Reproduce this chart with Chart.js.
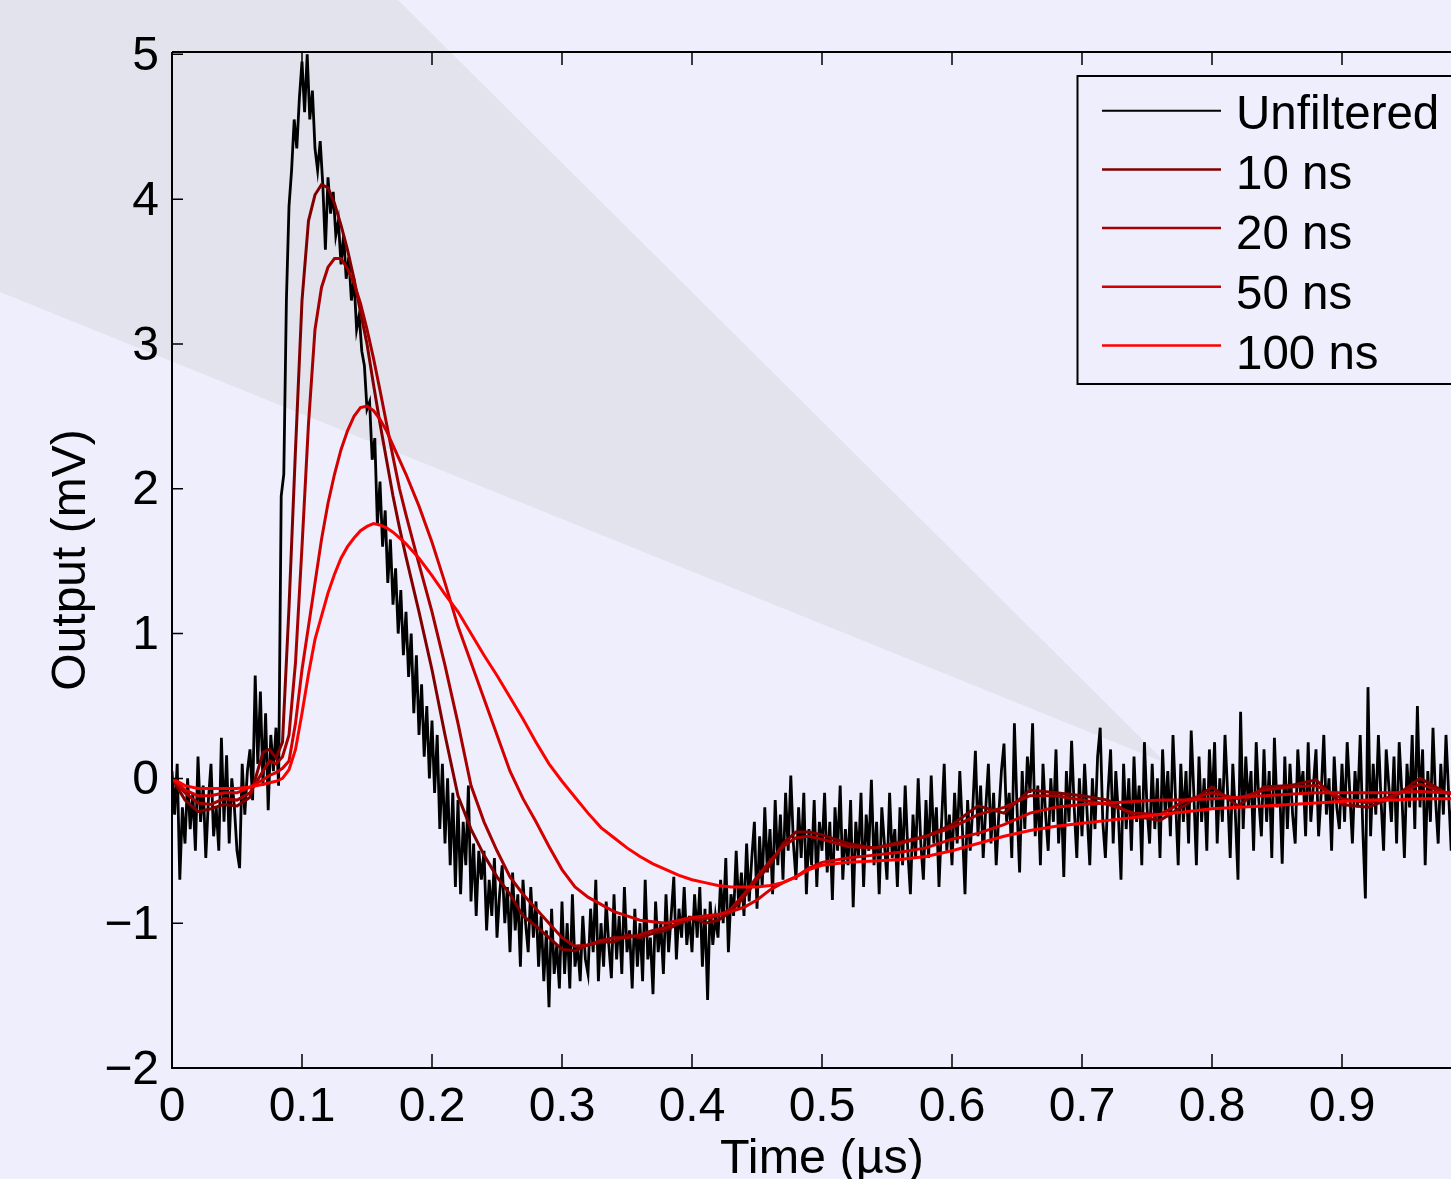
<!DOCTYPE html>
<html><head><meta charset="utf-8">
<script src="https://cdn.jsdelivr.net/npm/chart.js@4.4.1/dist/chart.umd.min.js"></script>
<style>
html,body{margin:0;padding:0;background:#EEEEFC;overflow:hidden;width:1451px;height:1179px;}
canvas{display:block;}
</style></head><body>
<canvas id="c" width="1520" height="1200"></canvas>
<script>
// ---------- DATA ----------
const seriesLabels = ['Unfiltered', '10 ns', '20 ns', '50 ns', '100 ns'];
const xTickVals = [0, 0.1, 0.2, 0.3, 0.4, 0.5, 0.6, 0.7, 0.8, 0.9, 1.0];
const yTickVals = [-2, -1, 0, 1, 2, 3, 4, 5];

// Unfiltered trace, sampled every blackDt microseconds starting at 0
const blackDt = 0.002;
const blackVals = [
  0.05, -0.25, 0.1, -0.7, -0.2, -0.45, 0.0, -0.35, -0.1, -0.5,
  0.15, -0.3, -0.05, -0.55, -0.15, 0.1, -0.4, -0.2, -0.5, 0.28,
  -0.3, 0.16, -0.45, 0.0, -0.2, -0.5, -0.62, 0.1, -0.25, 0.05,
  0.2, -0.15, 0.71, 0.1, 0.6, -0.05, 0.45, -0.22, 0.3, 0.05,
  0.35, -0.05, 1.95, 2.1, 3.3, 3.95, 4.2, 4.55, 4.35, 4.7,
  4.95, 4.6, 5.0, 4.55, 4.75, 4.35, 4.2, 4.4, 4.1, 3.65,
  4.15, 3.9, 4.05, 3.75, 3.85, 3.55, 3.75, 3.45, 3.6, 3.3,
  3.45, 3.1, 3.2, 2.95, 2.85, 2.55, 2.6, 2.2, 2.35, 1.75,
  2.05, 1.6, 1.85, 1.35, 1.65, 1.2, 1.45, 1.0, 1.3, 0.85,
  1.15, 0.7, 1.0, 0.45, 0.85, 0.3, 0.65, 0.15, 0.5, 0.0,
  0.4, -0.1, 0.3, -0.35, 0.1, -0.45, 0.0, -0.6, -0.1, -0.75,
  -0.15, -0.8, -0.3, -0.6, -0.05, -0.85, -0.45, -0.95, -0.5, -0.7,
  -0.5, -1.05, -0.7, -0.95, -0.55, -1.1, -0.8, -0.6, -1.0, -0.75,
  -1.2, -0.65, -1.05, -0.8, -1.3, -0.7, -1.0, -1.2, -0.75, -1.1,
  -0.85, -1.3, -0.95, -1.4, -1.05, -1.58, -0.9, -1.35, -1.15, -1.45,
  -0.85, -1.35, -1.0, -1.45, -0.8, -1.3, -1.15, -1.4, -0.95, -1.25,
  -1.35, -0.9, -1.2, -0.7, -1.4, -1.0, -1.3, -0.85, -1.15, -1.38,
  -0.8, -1.25, -0.95, -1.35, -0.75, -1.2, -1.05, -1.45, -0.9, -1.3,
  -1.0, -1.4, -0.7, -1.25, -1.1, -1.49, -0.85, -1.2, -1.0, -1.35,
  -0.8, -1.2, -0.95, -0.68, -1.25, -0.9, -1.1, -0.75, -1.15, -0.95,
  -1.2, -0.8, -1.1, -0.75, -1.3, -0.9, -1.53, -0.85, -1.15, -0.95,
  -1.1, -0.7, -1.0, -0.55, -1.2, -0.8, -0.95, -0.5, -0.9, -0.65,
  -0.95, -0.45, -0.85, -0.55, -0.3, -0.9, -0.4, -0.75, -0.2, -0.65,
  -0.35, -0.8, -0.15, -0.6, -0.25, -0.7, -0.1, -0.5, 0.02, -0.45,
  -0.7, -0.2, -0.55, -0.1, -0.8, -0.35, -0.6, -0.15, -0.75, -0.3,
  -0.5, -0.1, -0.65, -0.3, -0.84, -0.2, -0.5, -0.05, -0.7, -0.35,
  -0.6, -0.15, -0.89, -0.3, -0.55, -0.1, -0.75, -0.25, -0.5, -0.01,
  -0.6, -0.3, -0.8, -0.2, -0.45, -0.7, -0.1, -0.55, -0.35, -0.75,
  -0.2, -0.6, -0.05, -0.5, -0.8, -0.25, -0.55, 0.0, -0.45, -0.7,
  -0.15, -0.55, 0.02, -0.45, -0.2, -0.75, -0.3, 0.1, -0.5, -0.25,
  -0.6, -0.1, -0.45, 0.05, -0.35, -0.8, -0.15, -0.5, -0.2, 0.19,
  -0.4, -0.05, -0.55, -0.2, 0.1, -0.45, -0.1, -0.6, -0.25, 0.05,
  0.24, -0.3, -0.1, -0.55, 0.38, -0.2, -0.65, 0.05, -0.35, 0.15,
  -0.1, 0.38, -0.4, -0.05, -0.6, 0.1, -0.25, -0.5, 0.0, -0.3,
  0.2, -0.45, -0.1, -0.68, 0.05, -0.3, 0.26, -0.2, -0.55, 0.0,
  -0.4, 0.1, -0.25, -0.6, 0.0, -0.35, 0.15, 0.35, -0.3, -0.55,
  -0.1, 0.2, -0.45, 0.05, -0.25, -0.7, 0.1, -0.35, 0.0, -0.5,
  0.15, -0.3, -0.05, -0.6, 0.25, -0.2, -0.45, 0.1, -0.35, 0.0,
  -0.55, 0.2, -0.25, 0.05, -0.4, 0.3, -0.15, -0.6, 0.1, -0.3,
  0.05, -0.45, 0.33, -0.1, -0.6, 0.15, -0.3, 0.0, -0.5, 0.2,
  -0.2, 0.25, -0.45, 0.0, -0.3, 0.3, -0.1, -0.55, 0.1, -0.25,
  -0.7, 0.46, -0.35, 0.15, -0.2, 0.05, -0.5, 0.25, -0.15, -0.4,
  0.2, -0.3, 0.05, -0.55, 0.28, -0.2, -0.05, -0.59, 0.15, -0.35,
  0.1, -0.25, -0.45, 0.2, -0.1, 0.05, -0.4, 0.25, -0.3, -0.05,
  0.2, -0.4, -0.1, 0.3, -0.25, 0.0, -0.5, 0.15, -0.2, -0.35,
  0.1, -0.3, 0.25, -0.1, -0.45, 0.05, -0.2, 0.3, -0.35, -0.83,
  0.63, -0.4, 0.1, -0.25, 0.3, -0.15, -0.5, 0.2, -0.05, -0.3,
  0.15, -0.45, 0.25, -0.1, -0.55, 0.1, -0.2, 0.3, -0.35, 0.5,
  -0.2, 0.2, -0.6, 0.05, -0.3, 0.35, -0.15, -0.45, 0.1, -0.25,
  0.3, -0.1, -0.5, 0.15, -0.3, 0.05, -0.2, 0.25, -0.4, 0.0,
  -0.1
];

// Filtered traces, read at these times (µs)
const tFilt = [
  0, 0.01, 0.02, 0.03, 0.04, 0.05, 0.06, 0.07,
  0.075, 0.08, 0.085, 0.09, 0.095, 0.10, 0.105, 0.11, 0.115, 0.12, 0.125, 0.13, 0.135,
  0.14, 0.145, 0.15, 0.155, 0.16, 0.165, 0.17, 0.175, 0.18,
  0.19, 0.20, 0.21, 0.22, 0.23, 0.24, 0.25, 0.26, 0.27, 0.28, 0.29, 0.30, 0.31, 0.32,
  0.33, 0.34, 0.35, 0.36, 0.37, 0.38, 0.39, 0.40, 0.41, 0.42, 0.43, 0.44, 0.45, 0.46,
  0.47, 0.48, 0.49, 0.50,
  0.52, 0.54, 0.56, 0.58, 0.60, 0.62, 0.64, 0.66, 0.68, 0.70, 0.72, 0.74, 0.76, 0.78,
  0.80, 0.82, 0.84, 0.86, 0.88, 0.90, 0.92, 0.94, 0.96, 0.98, 1.0
];
const v10 = [
  0, -0.15, -0.23, -0.21, -0.18, -0.19, -0.13, 0.18,
  0.2, 0.14, 0.25, 1.18, 2.27, 3.3, 3.85, 4.03, 4.1, 4.08, 3.97, 3.82, 3.65,
  3.45, 3.22, 3.0, 2.72, 2.45, 2.2, 1.95, 1.73, 1.53,
  1.15, 0.75, 0.3, -0.12, -0.35, -0.53, -0.68, -0.8, -0.95, -1.02, -1.1, -1.18, -1.19, -1.15,
  -1.13, -1.13, -1.08, -1.1, -1.07, -1.05, -1.0, -0.96, -1.0, -0.98, -0.92, -0.82, -0.7, -0.6,
  -0.45, -0.37, -0.37, -0.39,
  -0.45, -0.48, -0.44, -0.4, -0.32, -0.19, -0.24, -0.08, -0.1, -0.12, -0.15, -0.26, -0.29, -0.18,
  -0.06, -0.19, -0.06, -0.05, -0.01, -0.18, -0.2, -0.13, 0.0, -0.1, -0.12
];
const v20 = [
  0, -0.1, -0.17, -0.18, -0.14, -0.15, -0.1, 0.05,
  0.12, 0.1, 0.15, 0.3, 0.8, 1.6, 2.45, 3.1, 3.39, 3.53, 3.59, 3.59, 3.52,
  3.42, 3.28, 3.1, 2.9, 2.68, 2.45, 2.22, 2.0, 1.82,
  1.48, 1.15, 0.78, 0.38, -0.05, -0.3, -0.5, -0.68, -0.8, -0.9, -1.0, -1.1, -1.16, -1.15,
  -1.12, -1.1, -1.1, -1.08, -1.05, -1.03, -1.0, -0.97, -0.97, -0.95, -0.9, -0.8, -0.68, -0.57,
  -0.47, -0.41, -0.4, -0.42,
  -0.47, -0.48, -0.45, -0.4, -0.34, -0.25, -0.2, -0.12, -0.12, -0.15, -0.18, -0.24, -0.25, -0.15,
  -0.1, -0.14, -0.08, -0.06, -0.05, -0.14, -0.17, -0.12, -0.04, -0.1, -0.12
];
const v50 = [
  0, -0.08, -0.12, -0.12, -0.1, -0.1, -0.06, -0.01,
  0.02, 0.04, 0.07, 0.12, 0.38, 0.75, 1.05, 1.35, 1.65, 1.9, 2.1, 2.27, 2.4,
  2.5, 2.56, 2.57, 2.54, 2.48, 2.4, 2.3, 2.2, 2.1,
  1.88, 1.63, 1.35, 1.05, 0.8, 0.55, 0.3, 0.05, -0.14, -0.3, -0.47, -0.63, -0.75, -0.82,
  -0.87, -0.92, -0.95, -0.98, -0.99, -1.0, -0.98, -0.96, -0.95, -0.94, -0.92, -0.89, -0.84, -0.77,
  -0.72, -0.68, -0.62, -0.58,
  -0.55, -0.53, -0.51, -0.48, -0.42, -0.38, -0.32, -0.24, -0.2, -0.18, -0.17, -0.16, -0.15, -0.15,
  -0.14, -0.13, -0.12, -0.11, -0.1, -0.1, -0.1, -0.1, -0.09, -0.1, -0.1
];
const v100 = [
  0, -0.05, -0.07, -0.07, -0.07, -0.07, -0.06, -0.04,
  -0.03, -0.02, 0.0, 0.06, 0.2, 0.45, 0.72, 0.96, 1.12, 1.28, 1.41, 1.52, 1.6,
  1.66, 1.71, 1.74, 1.76, 1.75, 1.73, 1.7, 1.66, 1.62,
  1.52, 1.4, 1.27, 1.15, 1.0, 0.85, 0.71, 0.56, 0.41, 0.25, 0.1, -0.02, -0.13, -0.24,
  -0.34, -0.41, -0.48, -0.54, -0.59, -0.63, -0.67, -0.7, -0.72, -0.74, -0.75, -0.75, -0.75, -0.74,
  -0.72, -0.68, -0.63, -0.6,
  -0.58, -0.57, -0.56, -0.54, -0.5, -0.45, -0.4, -0.36, -0.33, -0.31, -0.29, -0.27, -0.25, -0.23,
  -0.21, -0.2, -0.19, -0.18, -0.17, -0.16, -0.15, -0.15, -0.14, -0.14, -0.14
];

// ---------- STYLE ----------
const BG = '#EEEEFC';
const SHADE = '#E3E3EE';
const colors = ['#000000', '#800000', '#A50000', '#D20000', '#FF0000'];
const widths = [2.8, 3, 3, 3, 3];
const FONT = '"Liberation Sans", Arial, Helvetica, sans-serif';

Chart.defaults.font.family = FONT;
Chart.defaults.color = '#000';

const blackPts = blackVals.map((v, i) => ({x: i * blackDt, y: v}));
const filt = [v10, v20, v50, v100].map(arr => tFilt.map((t, i) => ({x: t, y: arr[i]})));
const allData = [blackPts, ...filt];

const datasets = allData.map((d, i) => ({
  label: seriesLabels[i],
  data: d,
  borderColor: colors[i],
  backgroundColor: colors[i],
  borderWidth: widths[i],
  borderJoinStyle: 'miter',
  pointRadius: 0,
  tension: 0,
  fill: false,
  order: 5 - i
}));

const fmtX = v => (v === 0 ? '0' : String(+v.toFixed(1)));
const fmtY = v => (v < 0 ? '\u2212' + Math.abs(v) : String(v));

const bgPlugin = {
  id: 'bg',
  beforeDraw(chart) {
    const ctx = chart.ctx;
    ctx.save();
    ctx.fillStyle = BG;
    ctx.fillRect(0, 0, chart.width, chart.height);
    ctx.fillStyle = SHADE;
    ctx.beginPath();
    ctx.moveTo(0, 0);
    ctx.lineTo(398, 0);
    ctx.lineTo(1166, 763);
    ctx.lineTo(0, 292);
    ctx.closePath();
    ctx.fill();
    ctx.restore();
  }
};

const framePlugin = {
  id: 'frame',
  afterDatasetsDraw(chart) {
    const {ctx, chartArea: a, scales: {x, y}} = chart;
    ctx.save();
    ctx.strokeStyle = '#000';
    ctx.lineWidth = 2;
    ctx.beginPath();
    ctx.moveTo(a.left, a.top); ctx.lineTo(a.right, a.top);
    ctx.moveTo(a.left, a.top); ctx.lineTo(a.left, a.bottom); ctx.lineTo(a.right, a.bottom);
    ctx.stroke();
    ctx.lineWidth = 1.5;
    ctx.beginPath();
    x.ticks.forEach(t => {
      const p = x.getPixelForValue(t.value);
      ctx.moveTo(p, a.bottom); ctx.lineTo(p, a.bottom - 14);
      ctx.moveTo(p, a.top); ctx.lineTo(p, a.top + 13);
    });
    y.ticks.forEach(t => {
      const p = y.getPixelForValue(t.value);
      ctx.moveTo(a.left, p); ctx.lineTo(a.left + 11, p);
    });
    ctx.stroke();
    ctx.restore();
  }
};

const legendPlugin = {
  id: 'boxLegend',
  afterDraw(chart) {
    const {ctx, chartArea: a} = chart;
    const L = a.left + 905.5, T = a.top + 24, R = chart.width + 10, B = a.top + 332;
    ctx.save();
    ctx.fillStyle = BG;
    ctx.fillRect(L, T, R - L, B - T);
    ctx.strokeStyle = '#000';
    ctx.lineWidth = 2;
    ctx.strokeRect(L, T, R - L, B - T);
    ctx.font = '47.5px ' + FONT;
    ctx.textBaseline = 'middle';
    ctx.textAlign = 'left';
    chart.data.datasets.forEach((ds, i) => {
      const yy = T + 34.7 + i * 58.7;
      ctx.strokeStyle = ds.borderColor;
      ctx.lineWidth = i === 0 ? 2 : 2.5;
      ctx.beginPath();
      ctx.moveTo(L + 24.5, yy);
      ctx.lineTo(L + 143.5, yy);
      ctx.stroke();
      ctx.fillStyle = '#000';
      ctx.fillText(ds.label, L + 158.5, T + 40 + i * 60);
    });
    ctx.restore();
  }
};

new Chart(document.getElementById('c'), {
  type: 'line',
  data: {datasets},
  plugins: [bgPlugin, framePlugin, legendPlugin],
  options: {
    responsive: false,
    animation: false,
    events: [],
    layout: {padding: {left: 0, top: 52, right: 48, bottom: 0}},
    plugins: {legend: {display: false}, tooltip: {enabled: false}},
    scales: {
      x: {
        type: 'linear', min: 0, max: 1,
        grid: {display: false, drawTicks: false},
        border: {display: false},
        afterFit: s => { s.height = 132; },
        afterBuildTicks: s => { s.ticks = xTickVals.map(v => ({value: v})); },
        ticks: {padding: 11, maxRotation: 0, minRotation: 0, autoSkip: false,
                font: {size: 48}, color: '#000', callback: v => fmtX(v)},
        title: {display: true, text: 'Time (µs)', color: '#000',
                font: {size: 48.5}, padding: {top: 0, bottom: 11}}
      },
      y: {
        type: 'linear', min: -2, max: 5.016,
        grid: {display: false, drawTicks: false},
        border: {display: false},
        afterFit: s => { s.width = 172; },
        afterBuildTicks: s => { s.ticks = yTickVals.map(v => ({value: v})); },
        ticks: {padding: 13, labelOffset: 2.5, font: {size: 48}, color: '#000', callback: v => fmtY(v)},
        title: {display: true, text: 'Output (mV)', color: '#000',
                font: {size: 48}, padding: {top: 43, bottom: 0}}
      }
    }
  }
});
</script>
</body></html>
